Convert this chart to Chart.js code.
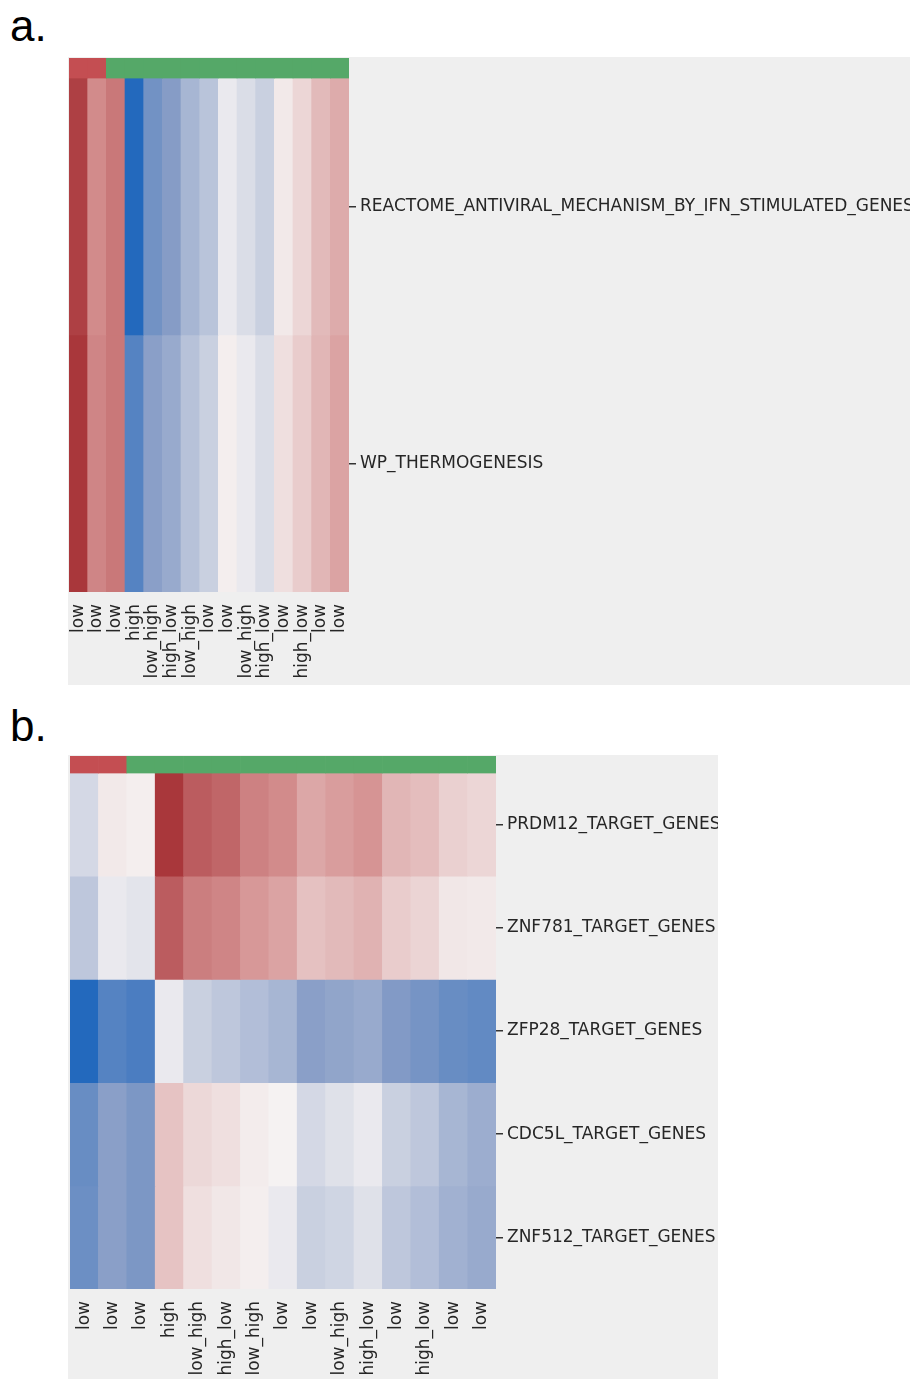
<!DOCTYPE html>
<html>
<head>
<meta charset="utf-8">
<script src="https://cdn.jsdelivr.net/npm/chart.js@4.4.1/dist/chart.umd.min.js"></script>
<style>
  body { margin: 0; background: #fff; width: 910px; height: 1379px; position: relative; overflow: hidden; }
  .tag { position: absolute; left: 10px; font: 44px "Liberation Sans", sans-serif; color: #000; line-height: 1; }
  .panel { position: absolute; background: #efefef; }
</style>
</head>
<body>
<div class="tag" style="top:4px">a.</div>
<div class="panel" style="left:68px;top:57px;width:842px;height:628px"><canvas id="chartA"></canvas></div>
<div class="tag" style="top:704px">b.</div>
<div class="panel" style="left:68px;top:755px;width:650px;height:624px"><canvas id="chartB"></canvas></div>

<script>
// column labels (same order in both panels)
const columns = ['low', 'low', 'low', 'high', 'low_high', 'high_low', 'low_high', 'low', 'low',
                 'low_high', 'high_low', 'low', 'high_low', 'low', 'low'];
// group of each column, drawn as the colour strip on top
const groups = ['g1', 'g1', 'g2', 'g2', 'g2', 'g2', 'g2', 'g2', 'g2', 'g2', 'g2', 'g2', 'g2', 'g2', 'g2'];
const groupColors = { g1: '#c44e52', g2: '#55a868' };

// panel a
const rowsA = ['REACTOME_ANTIVIRAL_MECHANISM_BY_IFN_STIMULATED_GENES', 'WP_THERMOGENESIS'];
const reactome = [0.95, 0.55, 0.65, -1.0, -0.6, -0.5, -0.35, -0.27, -0.05, -0.12, -0.2, 0.05, 0.15, 0.3, 0.38];
const thermo = [1.0, 0.58, 0.65, -0.75, -0.48, -0.42, -0.28, -0.2, 0.02, -0.05, -0.12, 0.1, 0.2, 0.32, 0.42];

// panel b
const rowsB = ['PRDM12_TARGET_GENES', 'ZNF781_TARGET_GENES', 'ZFP28_TARGET_GENES', 'CDC5L_TARGET_GENES', 'ZNF512_TARGET_GENES'];
const prdm12 = [-0.15, 0.05, 0.02, 1.0, 0.8, 0.75, 0.6, 0.55, 0.4, 0.45, 0.5, 0.32, 0.28, 0.18, 0.15];
const znf781 = [-0.25, -0.05, -0.08, 0.8, 0.62, 0.58, 0.48, 0.42, 0.26, 0.3, 0.34, 0.2, 0.16, 0.06, 0.05];
const zfp28 = [-1.0, -0.75, -0.8, -0.05, -0.2, -0.25, -0.3, -0.35, -0.48, -0.45, -0.42, -0.52, -0.58, -0.65, -0.68];
const cdc5l = [-0.65, -0.48, -0.55, 0.25, 0.14, 0.1, 0.03, 0.0, -0.15, -0.1, -0.05, -0.2, -0.25, -0.35, -0.4];
const znf512 = [-0.63, -0.48, -0.55, 0.25, 0.1, 0.06, 0.02, -0.05, -0.2, -0.17, -0.1, -0.25, -0.3, -0.38, -0.42];

// rough vlag colormap
const stops = [
  [0, [35, 105, 189]],
  [0.25, [134, 156, 198]],
  [0.5, [245, 242, 242]],
  [0.75, [214, 148, 148]],
  [1, [169, 55, 59]]
];
function vlag(v) {
  const t = Math.max(0, Math.min(1, (v + 1) / 2));
  for (let i = 1; i < stops.length; i++) {
    if (t <= stops[i][0]) {
      const [t0, c0] = stops[i - 1];
      const [t1, c1] = stops[i];
      const f = (t - t0) / (t1 - t0);
      const c = c0.map((x, k) => Math.round(x + (c1[k] - x) * f));
      return `rgb(${c[0]},${c[1]},${c[2]})`;
    }
  }
  return 'rgb(169,55,59)';
}

const font = { family: 'DejaVu Sans', size: 17 };
const textColor = '#262626';

function heatmap(id, rows, values, stripH, axisW, axisH, padLeft) {
  const datasets = [{
    data: columns.map(() => stripH),
    backgroundColor: groups.map(g => groupColors[g])
  }];
  rows.forEach((r, i) => {
    datasets.push({ label: r, data: columns.map(() => 1), backgroundColor: values[i].map(vlag) });
  });

  return new Chart(document.getElementById(id), {
    type: 'bar',
    data: { labels: columns, datasets: datasets },
    options: {
      responsive: true,
      maintainAspectRatio: false,
      animation: false,
      layout: { padding: { left: padLeft, top: 1, right: 0, bottom: 0 } },
      datasets: { bar: { barPercentage: 1, categoryPercentage: 1, borderWidth: 0 } },
      plugins: { legend: { display: false }, tooltip: { enabled: false } },
      scales: {
        x: {
          stacked: true,
          grid: { display: false },
          border: { display: false },
          ticks: { autoSkip: false, minRotation: 90, maxRotation: 90, padding: 4, font: font, color: textColor },
          afterFit: s => { s.height = axisH; s.paddingLeft = 0; s.paddingRight = 0; }
        },
        y: {
          type: 'linear',
          stacked: true,
          reverse: true,
          position: 'right',
          min: 0,
          max: rows.length + stripH,
          afterBuildTicks: s => { s.ticks = rows.map((r, i) => ({ value: stripH + i + 0.5 })); },
          ticks: { callback: (v, i) => rows[i], padding: 4, font: font, color: textColor },
          grid: { drawOnChartArea: false, drawTicks: true, tickLength: 7, lineWidth: 1.5, color: '#333' },
          border: { display: false },
          afterFit: s => { s.width = axisW; s.paddingTop = 0; s.paddingBottom = 0; }
        }
      }
    }
  });
}

heatmap('chartA', rowsA, [reactome, thermo], 0.078, 561, 93, 1);
heatmap('chartB', rowsB, [prdm12, znf781, zfp28, cdc5l, znf512], 0.165, 222, 90, 2);
</script>
</body>
</html>
